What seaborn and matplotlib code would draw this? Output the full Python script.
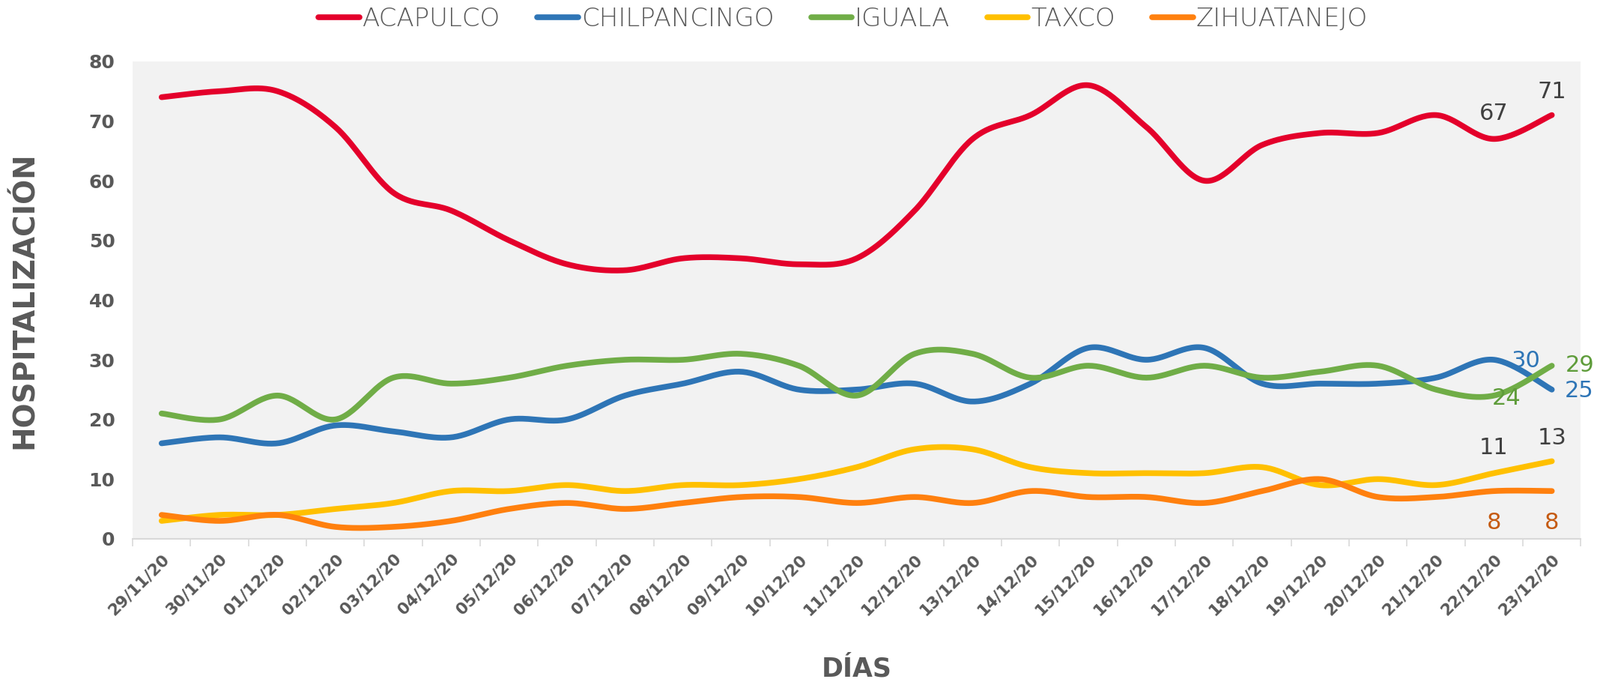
import numpy as np
import pandas as pd
import matplotlib
matplotlib.use("Agg")
import matplotlib.pyplot as plt
import seaborn as sns
from matplotlib.lines import Line2D

dates = ["29/11/20", "30/11/20", "01/12/20", "02/12/20", "03/12/20", "04/12/20",
         "05/12/20", "06/12/20", "07/12/20", "08/12/20", "09/12/20", "10/12/20",
         "11/12/20", "12/12/20", "13/12/20", "14/12/20", "15/12/20", "16/12/20",
         "17/12/20", "18/12/20", "19/12/20", "20/12/20", "21/12/20", "22/12/20",
         "23/12/20"]

acapulco = [74, 75, 75, 69, 58, 55, 50, 46, 45, 47, 47, 46, 47, 55, 67, 71, 76, 69, 60, 66, 68, 68, 71, 67, 71]
chilpancingo = [16, 17, 16, 19, 18, 17, 20, 20, 24, 26, 28, 25, 25, 26, 23, 26, 32, 30, 32, 26, 26, 26, 27, 30, 25]
iguala = [21, 20, 24, 20, 27, 26, 27, 29, 30, 30, 31, 29, 24, 31, 31, 27, 29, 27, 29, 27, 28, 29, 25, 24, 29]
taxco = [3, 4, 4, 5, 6, 8, 8, 9, 8, 9, 9, 10, 12, 15, 15, 12, 11, 11, 11, 12, 9, 10, 9, 11, 13]
zihuatanejo = [4, 3, 4, 2, 2, 3, 5, 6, 5, 6, 7, 7, 6, 7, 6, 8, 7, 7, 6, 8, 10, 7, 7, 8, 8]

series_names = ["ACAPULCO", "CHILPANCINGO", "IGUALA", "TAXCO", "ZIHUATANEJO"]
series_values = [acapulco, chilpancingo, iguala, taxco, zihuatanejo]
colors = ["#E4002B", "#2E75B6", "#70AD47", "#FFC000", "#FF800E"]

y_ticks = [0, 10, 20, 30, 40, 50, 60, 70, 80]

sns.set_theme(style="white")
plt.rcParams["font.family"] = ["DejaVu Sans"]

TXT = "#595959"


def smooth(xs, ys, n=30):
    """Excel-like smoothed line (Bezier with Catmull-Rom control points)."""
    xs = np.asarray(xs, float)
    ys = np.asarray(ys, float)
    px = np.concatenate([[xs[0]], xs, [xs[-1]]])
    py = np.concatenate([[ys[0]], ys, [ys[-1]]])
    ox, oy = [], []
    t = np.linspace(0, 1, n, endpoint=False)
    for i in range(1, len(px) - 2):
        p0x, p0y = px[i], py[i]
        p3x, p3y = px[i + 1], py[i + 1]
        p1x = p0x + (px[i + 1] - px[i - 1]) / 6
        p1y = p0y + (py[i + 1] - py[i - 1]) / 6
        p2x = p3x - (px[i + 2] - px[i]) / 6
        p2y = p3y - (py[i + 2] - py[i]) / 6
        b0 = (1 - t) ** 3
        b1 = 3 * (1 - t) ** 2 * t
        b2 = 3 * (1 - t) * t ** 2
        b3 = t ** 3
        ox.extend(b0 * p0x + b1 * p1x + b2 * p2x + b3 * p3x)
        oy.extend(b0 * p0y + b1 * p1y + b2 * p2y + b3 * p3y)
    ox.append(xs[-1])
    oy.append(ys[-1])
    return np.array(ox), np.array(oy)


frames = []
xpos = np.arange(len(dates))
for name, vals in zip(series_names, series_values):
    sx, sy = smooth(xpos, vals)
    frames.append(pd.DataFrame({"x": sx, "y": sy, "serie": name}))
df = pd.concat(frames, ignore_index=True)

fig = plt.figure(figsize=(21.36, 9.10), dpi=100)
ax = fig.add_axes([0.0829, 0.210, 0.9051, 0.700])
ax.set_facecolor("#F2F2F2")

sns.lineplot(data=df, x="x", y="y", hue="serie", hue_order=series_names,
             palette=colors, sort=False, estimator=None, linewidth=5.5, ax=ax,
             legend=False)
for ln in ax.get_lines():
    ln.set_solid_capstyle("round")
    ln.set_solid_joinstyle("round")

ax.set_xlim(-0.5, len(dates) - 0.5)
ax.set_ylim(0, 80)
ax.set_yticks(y_ticks)
ax.set_yticklabels([str(v) for v in y_ticks], fontsize=18, fontweight="bold", color=TXT)
ax.set_xticks(xpos)
ax.set_xticklabels(dates, rotation=45, ha="right", rotation_mode="anchor",
                   fontsize=15.5, fontweight="bold", color=TXT)
ax.set_xticks(np.arange(-0.5, len(dates) + 0.5, 1), minor=True)
ax.tick_params(axis="x", which="major", length=0, pad=12)
ax.tick_params(axis="x", which="minor", length=7, width=1.2, color="#D9D9D9", direction="out", bottom=True)
ax.tick_params(axis="y", length=0, pad=17)
for s in ["top", "right", "left"]:
    ax.spines[s].set_visible(False)
ax.spines["bottom"].set_color("#D9D9D9")
ax.spines["bottom"].set_linewidth(1.5)
ax.grid(False)

ax.set_xlabel("DÍAS", fontsize=25, fontweight="bold", color=TXT, labelpad=37)
ax.set_ylabel("HOSPITALIZACIÓN", fontsize=28, fontweight="bold", color=TXT, labelpad=48)

# data labels
lab_dark = "#404040"
fs_lab = 22
i22, i23 = len(dates) - 2, len(dates) - 1
ax.annotate(str(acapulco[i22]), (i22, acapulco[i22]), xytext=(0, 14), textcoords="offset points",
            ha="center", va="bottom", fontsize=fs_lab, color=lab_dark)
ax.annotate(str(acapulco[i23]), (i23, acapulco[i23]), xytext=(0, 12), textcoords="offset points",
            ha="center", va="bottom", fontsize=fs_lab, color=lab_dark)
ax.annotate(str(chilpancingo[i22]), (i22, chilpancingo[i22]), xytext=(31, -1), textcoords="offset points",
            ha="center", va="center", fontsize=fs_lab, color="#2E75B6")
ax.annotate(str(chilpancingo[i23]), (i23, chilpancingo[i23]), xytext=(26, -1), textcoords="offset points",
            ha="center", va="center", fontsize=fs_lab, color="#2E75B6")
ax.annotate(str(iguala[i22]), (i22, iguala[i22]), xytext=(12, -3), textcoords="offset points",
            ha="center", va="center", fontsize=fs_lab, color="#5E9C3A")
ax.annotate(str(iguala[i23]), (i23, iguala[i23]), xytext=(27, 0), textcoords="offset points",
            ha="center", va="center", fontsize=fs_lab, color="#5E9C3A")
ax.annotate(str(taxco[i22]), (i22, taxco[i22]), xytext=(0, 14), textcoords="offset points",
            ha="center", va="bottom", fontsize=fs_lab, color=lab_dark)
ax.annotate(str(taxco[i23]), (i23, taxco[i23]), xytext=(0, 12), textcoords="offset points",
            ha="center", va="bottom", fontsize=fs_lab, color=lab_dark)
ax.annotate(str(zihuatanejo[i22]), (i22, zihuatanejo[i22]), xytext=(0, -20), textcoords="offset points",
            ha="center", va="top", fontsize=fs_lab, color="#C55A11")
ax.annotate(str(zihuatanejo[i23]), (i23, zihuatanejo[i23]), xytext=(0, -20), textcoords="offset points",
            ha="center", va="top", fontsize=fs_lab, color="#C55A11")

# legend
handles = [Line2D([0], [0], color=c, linewidth=5.5, solid_capstyle="round") for c in colors]
leg = fig.legend(handles, series_names, loc="center", bbox_to_anchor=(0.527, 0.972), ncol=5,
                 frameon=False, handlelength=1.6, handletextpad=0.12,
                 columnspacing=1.45, prop={"family": "DejaVu Sans", "size": 24.5, "weight": "light"})
for t in leg.get_texts():
    t.set_color(TXT)

fig.savefig("out.png", dpi=100)
